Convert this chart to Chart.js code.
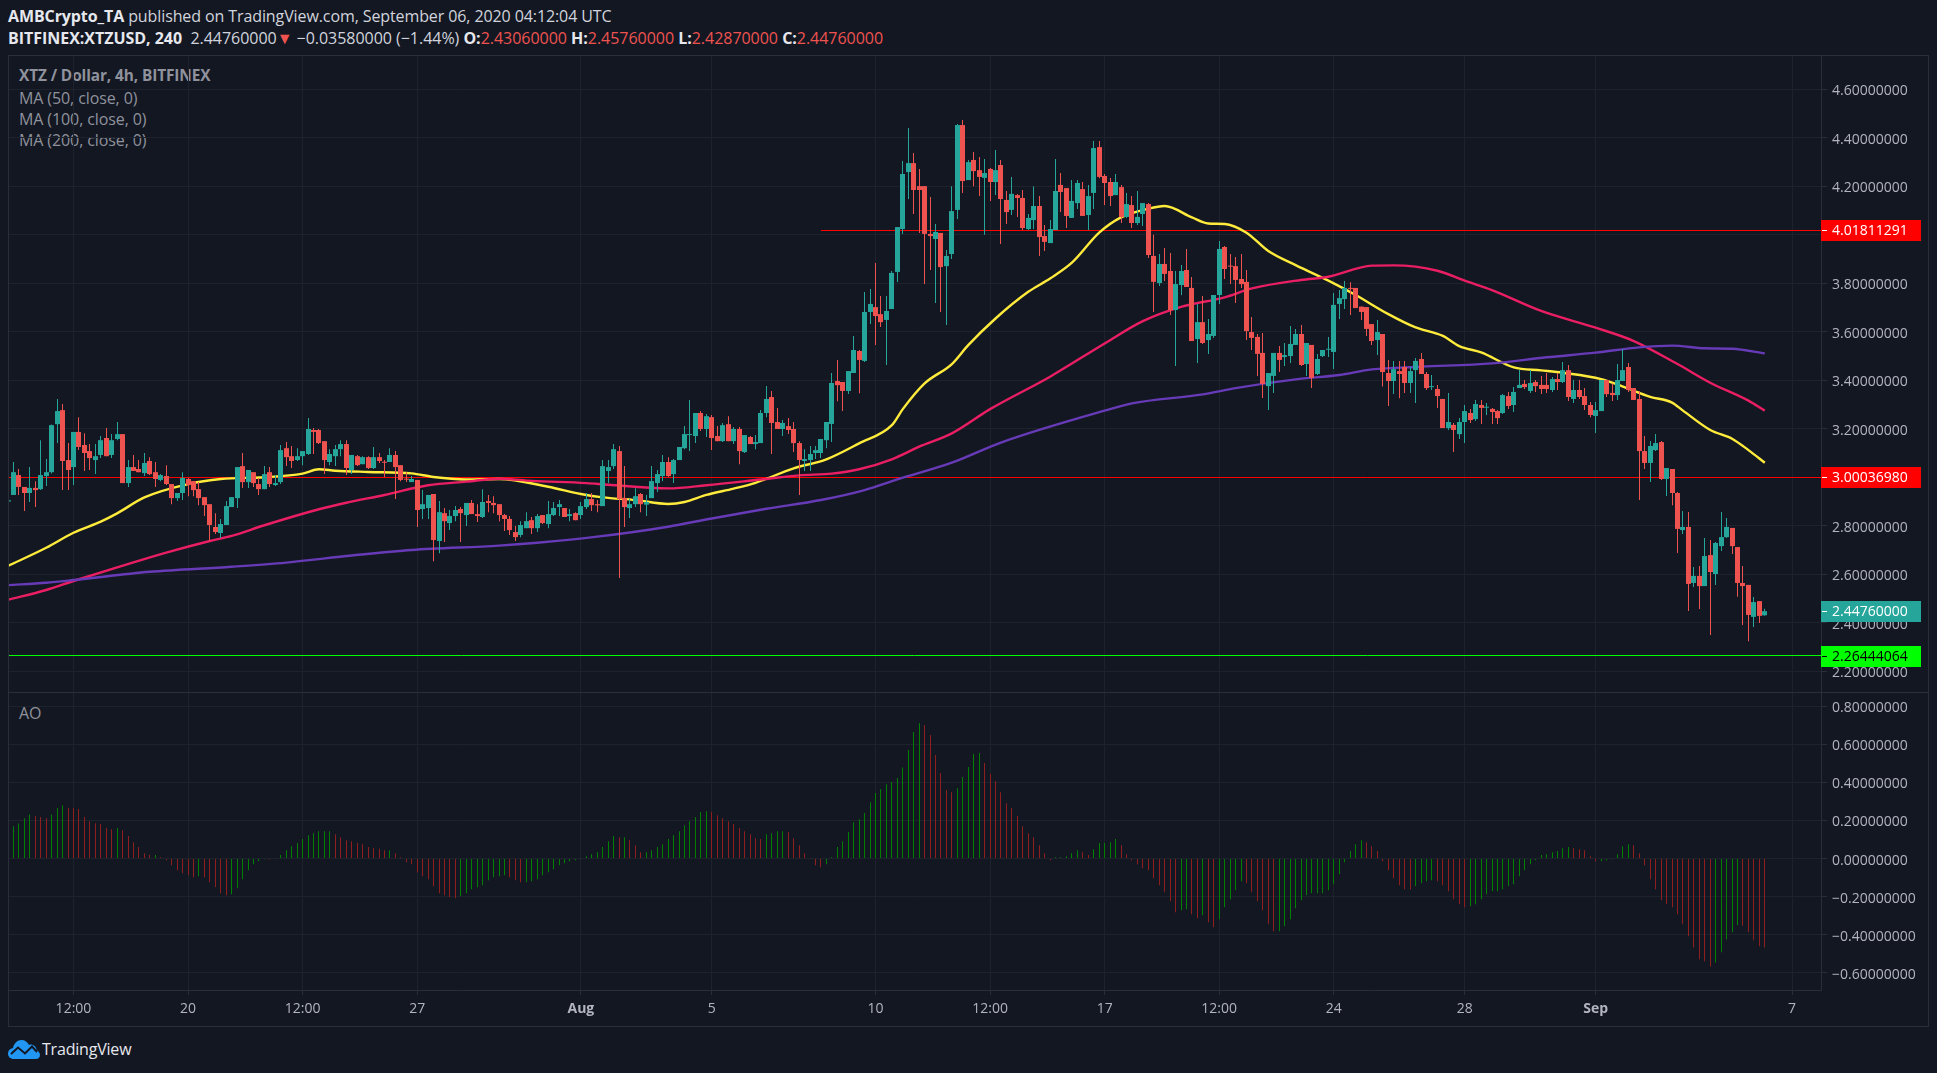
<!DOCTYPE html>
<html>
<head>
<meta charset="utf-8">
<title>XTZ / Dollar</title>
<script src="https://cdn.jsdelivr.net/npm/chart.js@4"></script>
<style>
  html, body { margin: 0; padding: 0; background: #131722; width: 1937px; height: 1073px; overflow: hidden; }
  body { font-family: "Open Sans", sans-serif; position: relative; }
  canvas { position: absolute; left: 8px; }
  .frame { position: absolute; left: 8px; top: 55px; width: 1919px; height: 970px; border: 1px solid #2a2e39; }
  .divider { position: absolute; left: 8px; top: 692px; width: 1920px; height: 1px; background: #2a2e39; }
  .txt { position: absolute; white-space: nowrap; }
  .head { left: 8px; font-size: 16px; color: #d1d4dc; letter-spacing: -0.1px; }
  .head b { color: #e6e8ee; font-weight: 700; }
  .neg { color: #ef5350; }
  .legend { left: 19px; font-size: 16px; color: #8f929c; letter-spacing: -0.1px; }
</style>
</head>
<body>
<div class="txt head" style="top:5px"><b>AMBCrypto_TA</b> published on TradingView.com, September 06, 2020 04:12:04 UTC</div>
<div class="txt head" style="top:27px;letter-spacing:-0.03px"><b>BITFINEX:XTZUSD, 240</b>&nbsp; 2.44760000<span class="neg">▼</span> −0.03580000 (−1.44%) <b>O:</b><span class="neg">2.43060000</span> <b>H:</b><span class="neg">2.45760000</span> <b>L:</b><span class="neg">2.42870000</span> <b>C:</b><span class="neg">2.44760000</span></div>
<div class="txt legend" style="top:65px;font-weight:700;font-size:15.4px">XTZ / Dollar, 4h, BITFINEX</div>
<div class="txt legend" style="top:87px">MA (50, close, 0)</div>
<div class="txt legend" style="top:108px">MA (100, close, 0)</div>
<div class="txt legend" style="top:129px">MA (200, close, 0)</div>
<div class="txt legend" style="top:702px">AO</div>

<canvas id="chartPrice" width="1920" height="638" style="top:55px"></canvas>
<canvas id="chartAo" width="1920" height="333" style="top:693px"></canvas>
<div class="frame"></div>
<div class="divider"></div>

<svg style="position:absolute;left:8px;top:1040px" width="32" height="19" viewBox="0 0 32 19">
  <path d="M6 19 C2 19 0 16.5 0 13.5 C0 10.5 2 8.5 5 8 C6 3.5 9.5 0 13.5 0 C17 0 19.5 2 21 5 C22 4.6 23 4.5 24 4.7 C27 5.2 28.5 8 28.5 10 C30.5 11 32 13 32 15 C32 17.5 30 19 28 19 Z" fill="#2196f3"/>
  <path d="M3 14 L10 7.5 L17 13.5 L24 6.5 L29 12" fill="none" stroke="#131722" stroke-width="2"/>
</svg>
<div class="txt" style="left:42px;top:1038px;font-size:16px;color:#e6e8ee;letter-spacing:-0.2px">TradingView</div>

<script>
// ---- candles, 4h bars, index 0 = 14 Jul 12:00 ----
const opens = [
  2.900,2.927,3.009,2.960,2.935,2.956,2.951,3.005,3.021,3.219,
  3.277,3.071,3.042,3.187,3.133,3.108,3.071,3.092,3.162,3.092,
  3.158,3.178,2.976,3.042,3.034,3.017,3.067,3.021,2.989,3.005,
  2.972,2.914,2.935,2.993,2.984,2.951,2.918,2.889,2.795,2.770,
  2.803,2.877,2.914,3.046,2.980,3.021,2.972,2.951,3.021,2.968,
  2.980,3.120,3.087,3.071,3.087,3.096,3.195,3.195,3.149,3.063,
  3.087,3.116,3.137,3.030,3.087,3.054,3.083,3.038,3.083,3.063,
  3.063,3.092,3.050,2.993,2.980,2.989,2.869,2.873,2.931,2.737,
  2.852,2.811,2.840,2.869,2.844,2.894,2.848,2.836,2.902,2.894,
  2.889,2.844,2.828,2.774,2.762,2.790,2.823,2.790,2.844,2.807,
  2.844,2.877,2.873,2.840,2.852,2.844,2.877,2.910,2.889,2.881,
  3.026,3.046,3.108,2.914,2.873,2.889,2.931,2.887,2.914,2.976,
  3.005,3.063,3.013,3.071,3.120,3.174,3.170,3.265,3.199,3.248,
  3.170,3.149,3.219,3.149,3.199,3.104,3.166,3.137,3.141,3.265,
  3.331,3.228,3.199,3.211,3.199,3.141,3.067,3.071,3.100,3.100,
  3.153,3.220,3.397,3.393,3.356,3.430,3.521,3.480,3.682,3.702,
  3.673,3.649,3.694,3.847,4.024,4.259,4.296,4.201,4.201,4.004,
  3.983,4.008,3.871,3.921,4.103,4.453,4.226,4.309,4.267,4.235,
  4.272,4.218,4.288,4.144,4.103,4.164,4.152,4.024,4.061,4.119,
  3.995,3.966,4.020,4.206,4.193,4.070,4.131,4.189,4.082,4.173,
  4.362,4.243,4.218,4.164,4.197,4.074,4.123,4.049,4.086,4.127,
  3.913,3.801,3.880,3.851,3.690,3.793,3.855,3.781,3.570,3.640,
  3.566,3.583,3.752,3.950,3.871,3.871,3.818,3.806,3.599,3.579,
  3.513,3.376,3.418,3.513,3.496,3.500,3.546,3.591,3.467,3.546,
  3.426,3.500,3.526,3.517,3.715,3.735,3.781,3.781,3.704,3.702,
  3.632,3.566,3.591,3.430,3.397,3.438,3.455,3.389,3.442,3.488,
  3.426,3.372,3.364,3.323,3.203,3.216,3.178,3.228,3.265,3.240,
  3.298,3.287,3.282,3.273,3.265,3.335,3.298,3.368,3.385,3.356,
  3.393,3.381,3.381,3.360,3.405,3.393,3.442,3.323,3.360,3.335,
  3.298,3.253,3.273,3.401,3.348,3.339,3.397,3.455,3.368,3.323,
  3.108,3.059,3.112,3.145,2.993,3.034,2.935,2.782,2.795,2.564,
  2.593,2.551,2.679,2.601,2.716,2.753,2.791,2.712,2.564,2.556,
  2.424,2.489,2.4306
];
const highs = [
  2.920,3.063,3.034,2.960,3.042,2.984,3.153,3.075,3.218,3.323,
  3.302,3.141,3.187,3.248,3.182,3.137,3.137,3.170,3.203,3.178,
  3.228,3.178,3.071,3.092,3.071,3.100,3.083,3.063,3.013,3.050,
  2.972,2.935,3.021,2.997,2.984,2.980,2.918,2.889,2.852,2.828,
  2.902,2.918,3.042,3.100,3.030,3.021,2.997,3.046,3.042,3.009,
  3.133,3.145,3.129,3.120,3.108,3.244,3.203,3.199,3.149,3.116,
  3.133,3.153,3.153,3.092,3.092,3.087,3.087,3.125,3.100,3.071,
  3.120,3.108,3.050,3.021,3.005,2.989,2.947,2.927,2.931,2.902,
  2.873,2.865,2.881,2.877,2.894,2.906,2.889,2.951,2.927,2.922,
  2.889,2.848,2.840,2.799,2.819,2.856,2.836,2.848,2.844,2.902,
  2.898,2.906,2.873,2.869,2.856,2.898,2.935,2.935,2.906,3.071,
  3.071,3.137,3.129,3.046,2.910,2.955,2.935,2.927,3.046,3.030,
  3.092,3.083,3.075,3.125,3.211,3.319,3.265,3.273,3.261,3.257,
  3.211,3.224,3.252,3.207,3.207,3.174,3.170,3.174,3.277,3.376,
  3.356,3.286,3.236,3.244,3.228,3.149,3.116,3.129,3.129,3.158,
  3.228,3.430,3.484,3.393,3.438,3.583,3.525,3.764,3.777,3.884,
  3.748,3.748,3.851,4.032,4.305,4.441,4.338,4.272,4.201,4.156,
  4.045,4.008,3.938,4.201,4.457,4.474,4.309,4.342,4.321,4.313,
  4.276,4.350,4.309,4.181,4.239,4.169,4.185,4.086,4.201,4.160,
  4.041,4.061,4.313,4.255,4.193,4.226,4.226,4.218,4.206,4.387,
  4.387,4.251,4.235,4.251,4.206,4.173,4.160,4.181,4.131,4.131,
  4.000,3.921,3.946,3.925,3.851,3.876,3.942,3.826,3.715,3.748,
  3.653,3.752,3.975,3.954,3.921,3.909,3.921,3.855,3.661,3.591,
  3.595,3.430,3.513,3.541,3.554,3.624,3.612,3.628,3.554,3.546,
  3.508,3.525,3.579,3.760,3.773,3.810,3.805,3.781,3.704,3.702,
  3.632,3.649,3.591,3.484,3.480,3.480,3.480,3.455,3.492,3.513,
  3.434,3.422,3.381,3.323,3.348,3.224,3.244,3.298,3.282,3.319,
  3.319,3.306,3.286,3.277,3.343,3.352,3.372,3.442,3.401,3.442,
  3.401,3.418,3.430,3.414,3.430,3.475,3.463,3.401,3.401,3.368,
  3.310,3.310,3.401,3.401,3.387,3.467,3.529,3.471,3.368,3.356,
  3.170,3.150,3.178,3.150,3.038,3.034,2.939,2.861,2.857,2.630,
  2.634,2.749,2.741,2.733,2.857,2.832,2.791,2.712,2.634,2.556,
  2.506,2.489,2.4576
];
const lows = [
  2.881,2.927,2.927,2.861,2.898,2.877,2.947,2.964,3.016,3.141,
  2.947,2.947,2.968,3.112,3.026,3.030,3.013,3.079,3.087,3.079,
  3.153,2.976,2.960,3.026,3.021,3.005,3.009,2.960,2.984,2.968,
  2.889,2.902,2.906,2.922,2.922,2.885,2.840,2.737,2.766,2.749,
  2.803,2.877,2.873,2.956,2.956,2.960,2.927,2.951,2.960,2.964,
  2.972,3.046,3.038,3.067,3.050,3.092,3.096,3.137,3.013,3.050,
  3.046,3.087,3.009,3.013,3.046,3.054,3.034,3.034,3.059,3.001,
  3.063,2.910,2.984,2.980,2.980,2.795,2.828,2.828,2.654,2.687,
  2.733,2.782,2.819,2.733,2.799,2.848,2.815,2.832,2.856,2.852,
  2.819,2.778,2.762,2.737,2.753,2.790,2.766,2.774,2.807,2.790,
  2.840,2.840,2.836,2.819,2.823,2.828,2.869,2.861,2.856,2.881,
  2.976,3.034,2.584,2.795,2.832,2.877,2.856,2.840,2.914,2.939,
  2.984,3.001,2.976,3.071,3.116,3.108,3.141,3.191,3.166,3.112,
  3.149,3.145,3.149,3.137,3.054,3.100,3.137,3.116,3.141,3.248,
  3.096,3.199,3.170,3.178,3.104,2.927,3.026,3.026,3.075,3.079,
  3.120,3.145,3.314,3.273,3.343,3.430,3.347,3.476,3.632,3.546,
  3.620,3.463,3.694,3.806,4.004,4.148,4.086,4.008,3.797,3.855,
  3.719,3.682,3.628,3.900,4.065,4.173,4.226,4.201,4.160,4.000,
  4.140,4.164,3.962,4.045,4.082,4.074,4.020,4.020,4.024,3.913,
  3.933,3.966,4.020,4.094,4.028,4.070,4.107,4.078,4.020,4.107,
  4.234,4.123,4.119,4.164,4.049,4.070,4.028,4.041,4.037,3.905,
  3.682,3.789,3.810,3.669,3.459,3.752,3.785,3.562,3.471,3.550,
  3.509,3.575,3.715,3.818,3.797,3.719,3.781,3.566,3.525,3.418,
  3.327,3.277,3.348,3.434,3.459,3.471,3.546,3.459,3.418,3.368,
  3.422,3.496,3.496,3.447,3.653,3.694,3.669,3.698,3.649,3.583,
  3.546,3.504,3.374,3.294,3.343,3.326,3.348,3.348,3.306,3.426,
  3.360,3.360,3.286,3.203,3.195,3.104,3.158,3.141,3.224,3.232,
  3.220,3.257,3.220,3.220,3.261,3.282,3.269,3.368,3.364,3.348,
  3.352,3.343,3.348,3.352,3.360,3.389,3.315,3.306,3.323,3.277,
  3.248,3.183,3.273,3.331,3.315,3.319,3.397,3.352,3.319,2.906,
  3.034,2.980,3.108,2.989,2.923,2.885,2.688,2.766,2.448,2.547,
  2.457,2.551,2.349,2.556,2.696,2.749,2.683,2.507,2.391,2.324,
  2.382,2.399,2.4287
];
const closes = [
  2.905,3.021,2.960,2.935,2.956,2.947,3.009,3.021,3.215,3.273,
  3.067,3.030,3.187,3.125,3.100,3.079,3.087,3.153,3.087,3.153,
  3.178,2.976,3.042,3.026,3.021,3.059,3.013,2.993,3.009,2.972,
  2.914,2.935,2.997,2.968,2.947,2.914,2.885,2.803,2.774,2.807,
  2.881,2.918,3.042,2.980,3.030,2.976,2.951,3.013,2.972,2.976,
  3.112,3.083,3.067,3.087,3.108,3.199,3.187,3.141,3.071,3.096,
  3.116,3.137,3.038,3.092,3.050,3.083,3.038,3.083,3.067,3.060,
  3.092,3.042,2.989,2.990,2.993,2.865,2.889,2.927,2.741,2.856,
  2.819,2.840,2.865,2.852,2.894,2.848,2.840,2.898,2.894,2.885,
  2.844,2.828,2.782,2.753,2.803,2.819,2.790,2.840,2.811,2.848,
  2.873,2.889,2.836,2.848,2.823,2.881,2.910,2.885,2.884,3.046,
  3.042,3.116,2.910,2.877,2.889,2.922,2.889,2.898,2.984,3.013,
  3.063,3.005,3.071,3.125,3.178,3.178,3.265,3.199,3.252,3.162,
  3.149,3.215,3.149,3.199,3.108,3.174,3.137,3.145,3.265,3.323,
  3.224,3.199,3.224,3.195,3.141,3.071,3.075,3.096,3.112,3.158,
  3.228,3.389,3.380,3.356,3.438,3.525,3.484,3.682,3.715,3.665,
  3.640,3.686,3.843,4.032,4.251,4.296,4.185,4.185,4.004,3.995,
  4.012,3.867,3.913,4.098,4.453,4.222,4.300,4.263,4.239,4.255,
  4.218,4.267,4.148,4.094,4.169,4.152,4.028,4.070,4.119,3.991,
  3.971,4.024,4.181,4.177,4.078,4.140,4.214,4.078,4.160,4.358,
  4.239,4.214,4.160,4.218,4.074,4.127,4.049,4.074,4.131,3.917,
  3.806,3.880,3.839,3.690,3.797,3.851,3.785,3.562,3.640,3.554,
  3.591,3.752,3.942,3.859,3.869,3.814,3.797,3.603,3.575,3.509,
  3.385,3.430,3.513,3.484,3.504,3.550,3.591,3.463,3.554,3.410,
  3.488,3.525,3.529,3.711,3.739,3.781,3.777,3.698,3.682,3.612,
  3.562,3.599,3.434,3.397,3.446,3.426,3.389,3.438,3.480,3.426,
  3.368,3.376,3.335,3.203,3.228,3.195,3.228,3.273,3.236,3.302,
  3.286,3.290,3.269,3.244,3.339,3.294,3.352,3.381,3.372,3.389,
  3.376,3.364,3.364,3.405,3.393,3.442,3.331,3.360,3.331,3.298,
  3.257,3.277,3.401,3.343,3.339,3.401,3.442,3.360,3.319,3.108,
  3.059,3.129,3.141,2.993,3.038,2.935,2.787,2.795,2.560,2.593,
  2.551,2.675,2.609,2.729,2.753,2.795,2.716,2.564,2.551,2.432,
  2.485,2.428,2.4476
];

// ---- moving averages, read at the bar indexes next to them ----
const ma50Bars = [0,7,12,17,20,25,33,39,47,54,57,60,66,74,78,84,90,99,105,109,115,121,124,128,133,137,144,150,156,162,164,168,173,176,181,187,191,195,200,204,209,212,217,220,223,227,231,236,243,247,253,258,263,266,270,276,281,285,292,296,301,305,307,312,316,319,322];
const ma50Values = [2.634,2.709,2.771,2.817,2.851,2.917,2.972,2.993,3.000,3.015,3.033,3.027,3.022,3.016,3.001,2.991,2.993,2.961,2.931,2.917,2.906,2.890,2.898,2.927,2.953,2.977,3.037,3.074,3.140,3.215,3.281,3.387,3.467,3.545,3.655,3.765,3.820,3.885,4.009,4.072,4.108,4.119,4.072,4.047,4.045,4.009,3.933,3.875,3.800,3.752,3.673,3.618,3.583,3.541,3.515,3.453,3.441,3.431,3.405,3.374,3.332,3.308,3.275,3.195,3.159,3.112,3.060];
const ma100Bars = [0,7,12,20,29,37,41,47,57,62,69,77,84,90,96,106,110,121,128,138,145,151,156,162,167,173,180,191,201,208,215,223,228,237,242,250,254,262,267,272,281,291,298,306,312,319,322];
const ma100Values = [2.494,2.535,2.572,2.628,2.689,2.737,2.758,2.802,2.868,2.895,2.927,2.967,2.982,2.994,2.985,2.976,2.969,2.954,2.967,2.991,3.008,3.015,3.033,3.074,3.126,3.181,3.281,3.415,3.552,3.644,3.703,3.742,3.779,3.814,3.827,3.873,3.874,3.852,3.811,3.772,3.686,3.617,3.562,3.467,3.390,3.316,3.275];
const ma200Bars = [0,7,12,26,41,51,63,74,90,97,108,121,129,139,149,157,163,173,182,202,206,219,225,236,244,250,259,272,282,291,299,305,311,316,322];
const ma200Values = [2.555,2.565,2.576,2.610,2.631,2.648,2.677,2.700,2.718,2.730,2.755,2.796,2.830,2.870,2.906,2.947,2.991,3.060,3.143,3.281,3.305,3.342,3.368,3.404,3.422,3.445,3.456,3.470,3.495,3.514,3.536,3.543,3.532,3.530,3.511];

// ---- Awesome Oscillator (first bar has no value) ----
const aoValues = [
  null,.170,.184,.212,.232,.223,.218,.212,.232,.265,
  .279,.267,.266,.260,.218,.196,.186,.181,.160,.154,
  .160,.149,.118,.086,.060,.028,.018,.018,.007,-.009,
  -.035,-.061,-.077,-.088,-.098,-.093,-.098,-.125,-.151,-.182,
  -.193,-.188,-.156,-.109,-.061,-.030,-.014,-.004,-.006,.002,
  .018,.044,.065,.081,.102,.123,.133,.144,.144,.144,
  .128,.112,.096,.091,.081,.075,.060,.054,.052,.044,
  .044,.028,.007,-.019,-.030,-.072,-.093,-.109,-.146,-.182,
  -.193,-.204,-.209,-.198,-.182,-.161,-.151,-.140,-.114,-.098,
  -.093,-.088,-.098,-.114,-.125,-.125,-.119,-.109,-.088,-.072,
  -.056,-.035,-.025,-.014,-.009,-.004,.012,.023,.033,.060,
  .091,.118,.112,.112,.096,.070,.033,.033,.044,.060,
  .075,.102,.123,.144,.175,.196,.218,.244,.249,.244,
  .228,.212,.196,.181,.160,.144,.128,.107,.102,.128,
  .133,.144,.144,.139,.107,.070,.028,.002,-.035,-.046,
  -.030,.007,.060,.091,.139,.191,.207,.239,.296,.344,
  .365,.391,.402,.423,.479,.570,.665,.712,.702,.649,
  .544,.449,.360,.349,.370,.428,.481,.549,.554,.502,
  .444,.407,.349,.291,.265,.223,.170,.133,.112,.070,
  .028,-.009,.007,.007,.012,.028,.044,.033,.018,.049,
  .081,.081,.086,.102,.070,.023,-.009,-.030,-.051,-.061,
  -.104,-.140,-.177,-.225,-.282,-.272,-.267,-.293,-.314,-.298,
  -.335,-.361,-.319,-.256,-.214,-.167,-.119,-.130,-.177,-.225,
  -.272,-.346,-.382,-.382,-.356,-.319,-.261,-.219,-.193,-.182,
  -.182,-.182,-.167,-.135,-.082,-.019,.039,.075,.096,.086,
  .065,.039,-.014,-.061,-.104,-.140,-.161,-.163,-.146,-.130,
  -.119,-.114,-.119,-.140,-.172,-.214,-.240,-.256,-.251,-.240,
  -.214,-.188,-.172,-.172,-.161,-.146,-.135,-.093,-.061,-.030,
  -.009,.018,.023,.033,.039,.054,.060,.054,.049,.044,
  .012,-.014,-.014,-.009,-.004,.023,.065,.075,.070,.028,
  -.035,-.109,-.161,-.219,-.240,-.256,-.293,-.346,-.409,-.467,
  -.530,-.540,-.567,-.546,-.493,-.425,-.388,-.351,-.353,-.388,
  -.430,-.461,-.467
];

// ---- axes and levels ----
const timeTickBars = [12,33,54,75,105,129,159,180,201,222,243,267,291,327];
const timeTickLabels = ['12:00','20','12:00','27','Aug','5','10','12:00','17','12:00','24','28','Sep','7'];
const boldTimeLabels = ['Aug','Sep'];
const priceTicks = [4.6,4.4,4.2,4.0,3.8,3.6,3.4,3.2,3.0,2.8,2.6,2.4,2.2];
const aoTicks = [0.8,0.6,0.4,0.2,0,-0.2,-0.4,-0.6];
const levelValues = [4.01811291,3.0003698,2.26444064];
const levelStartBars = [149,0,0];
const levelColors = ['#ff0000','#ff0000','#00ff00'];
const levelTextColors = ['#ffffff','#ffffff','#000000'];
const lastPrice = 2.4476;

const xMax = 332.3;
const upColor = '#26a69a';
const downColor = '#ef5350';
const gridColor = '#1e222d';
const axisColor = '#2a2e39';
const tickTextColor = '#b2b5be';
const tickFontFamily = "'Open Sans', sans-serif";

Chart.defaults.font.family = tickFontFamily;
Chart.defaults.animation = false;

function zipPoints(xs, ys) {
    return xs.map((x, i) => ({ x: x, y: ys[i] }));
}

// keep the thin marks on whole pixels, like the original renderer
const snapMarks = {
    id: 'snapMarks',
    afterDatasetsUpdate(chart) {
        chart.getSortedVisibleDatasetMetas().forEach(function(meta) {
            if (meta.type === 'bar') {
                meta.data.forEach(function(el) {
                    el.x = Math.round(el.x - 0.5) + 0.5;
                });
            } else if (meta.order === 5) {
                meta.data.forEach(function(el) {
                    el.y = Math.round(el.y - 0.5) + 0.5;
                });
            }
        });
    }
};

// price labels sitting on the right axis
const axisLabels = {
    id: 'axisLabels',
    afterDraw(chart) {
        const ctx = chart.ctx;
        const y = chart.scales.y;
        const items = levelValues.map((v, i) => ({ v: v, bg: levelColors[i], fg: levelTextColors[i] }));
        items.splice(2, 0, { v: lastPrice, bg: upColor, fg: '#ffffff' });
        ctx.save();
        ctx.font = '14px ' + tickFontFamily;
        ctx.textBaseline = 'middle';
        items.forEach(function(item) {
            const py = Math.round(y.getPixelForValue(item.v));
            ctx.fillStyle = item.bg;
            ctx.fillRect(y.left, py - 10, 100, 21);
            ctx.fillStyle = item.fg;
            ctx.fillRect(y.left + 1, py, 5, 1);
            ctx.fillText(item.v.toFixed(8), y.left + 11, py + 1);
        });
        ctx.restore();
    }
};

function timeScale(showLabels) {
    return {
        type: 'linear',
        min: 0,
        max: xMax,
        offset: false,
        afterBuildTicks: function(scale) {
            scale.ticks = timeTickBars.map(v => ({ value: v }));
        },
        afterFit: function(scale) {
            scale.height = showLabels ? 36 : 0;
            scale.paddingLeft = 0;
            scale.paddingRight = 0;
        },
        border: { display: showLabels, color: axisColor },
        grid: {
            offset: false,
            color: gridColor,
            tickColor: axisColor,
            tickLength: 5,
            drawTicks: showLabels
        },
        ticks: {
            display: showLabels,
            autoSkip: false,
            maxRotation: 0,
            padding: 6,
            color: tickTextColor,
            callback: function(value) {
                return timeTickLabels[timeTickBars.indexOf(value)];
            },
            font: function(context) {
                const isBold = context.tick && boldTimeLabels.includes(context.tick.label);
                return { size: 14, weight: isBold ? 'bold' : 'normal' };
            }
        }
    };
}

function valueScale(min, max, tickValues) {
    return {
        position: 'right',
        min: min,
        max: max,
        afterBuildTicks: function(scale) {
            scale.ticks = tickValues.map(v => ({ value: v }));
        },
        afterFit: function(scale) {
            scale.width = 107;
            scale.paddingTop = 0;
            scale.paddingBottom = 0;
        },
        border: { display: true, color: axisColor },
        grid: { color: gridColor, tickColor: axisColor, tickLength: 6 },
        ticks: {
            padding: 5,
            labelOffset: 2,
            color: tickTextColor,
            font: { size: 14 },
            callback: function(value) {
                return value.toFixed(8).replace('-', '−');
            }
        }
    };
}

const sharedOptions = {
    responsive: false,
    devicePixelRatio: 1,
    events: [],
    layout: { autoPadding: false, padding: 0 },
    plugins: { legend: { display: false }, tooltip: { enabled: false } }
};

// ========================================================================
// PRICE PANE
// ========================================================================
const levelDatasets = levelValues.map(function(level, i) {
    return {
        type: 'line',
        data: [{ x: levelStartBars[i], y: level }, { x: xMax, y: level }],
        borderColor: levelColors[i],
        borderWidth: 1,
        pointRadius: 0,
        order: 5
    };
});

function maDataset(bars, values, color) {
    return {
        type: 'line',
        data: zipPoints(bars, values),
        borderColor: color,
        borderWidth: 2.4,
        pointRadius: 0,
        cubicInterpolationMode: 'monotone',
        order: 4
    };
}

const candleColors = opens.map((o, i) => closes[i] >= o ? upColor : downColor);

new Chart(document.getElementById('chartPrice'), {
    type: 'bar',
    data: {
        datasets: levelDatasets.concat([
            maDataset(ma200Bars, ma200Values, '#673ab7'),
            maDataset(ma100Bars, ma100Values, '#e91e63'),
            maDataset(ma50Bars, ma50Values, '#ffeb3b'),
            {
                data: highs.map((h, i) => ({ x: i, y: [lows[i], h] })),
                backgroundColor: candleColors,
                barThickness: 1,
                inflateAmount: 0,
                grouped: false,
                order: 2
            },
            {
                data: opens.map((o, i) => ({ x: i, y: [o, closes[i]] })),
                backgroundColor: candleColors,
                barThickness: 5,
                inflateAmount: 0,
                minBarLength: 1,
                grouped: false,
                order: 1
            }
        ])
    },
    options: Object.assign({}, sharedOptions, {
        scales: { x: timeScale(false), y: valueScale(2.11, 4.742, priceTicks) }
    }),
    plugins: [snapMarks, axisLabels]
});

// ========================================================================
// AO PANE
// ========================================================================
new Chart(document.getElementById('chartAo'), {
    type: 'bar',
    data: {
        datasets: [{
            data: aoValues.map((v, i) => ({ x: i, y: v })),
            backgroundColor: aoValues.map((v, i) => v >= aoValues[i - 1] || i === 1 ? '#008000' : '#8f1f1f'),
            barThickness: 1,
            inflateAmount: 0,
            grouped: false
        }]
    },
    options: Object.assign({}, sharedOptions, {
        scales: { x: timeScale(true), y: valueScale(-0.691, 0.87, aoTicks) }
    }),
    plugins: [snapMarks]
});
</script>
</body>
</html>
